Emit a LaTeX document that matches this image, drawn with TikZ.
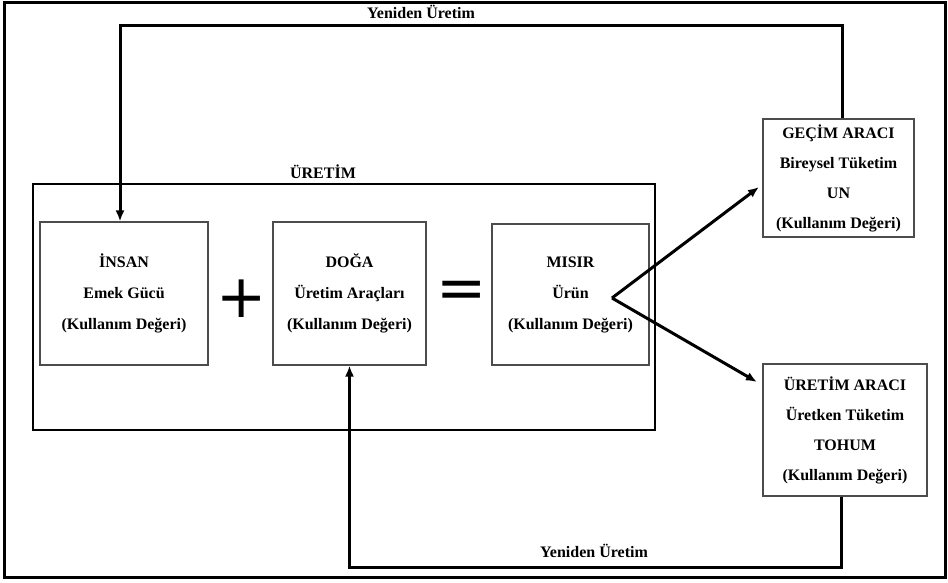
\documentclass[tikz,border=0pt]{standalone}
\usepackage{fontspec}
\setmainfont{Liberation Serif}
\newfontfamily\symfont{DejaVu Sans}
\usetikzlibrary{arrows.meta}
\begin{document}
\begin{tikzpicture}[x=1pt,y=-1pt,
 box/.style={draw=black!70,line width=1.1pt,inner sep=0pt,align=center,
   font=\bfseries\fontsize{16}{31}\selectfont},
 rbox/.style={box,font=\bfseries\fontsize{16}{30}\selectfont},
 lbl/.style={font=\bfseries\fontsize{16}{18}\selectfont,inner sep=0pt},
 flow/.style={line width=3pt,-{Latex[length=11pt,width=9pt]}},
 sym/.style={font=\symfont\fontsize{60}{60}\selectfont,inner sep=0pt},
]
\useasboundingbox (0,0) rectangle (948,582);
\draw[line width=3pt] (4,2) rectangle (945,577);

\node[draw,line width=1.6pt,minimum width=622pt,minimum height=246pt,inner sep=0pt] (uretim) at (344,307) {};
\node[lbl] (ulbl) at (323,172) {ÜRETİM};

\node[box,minimum width=168pt,minimum height=143pt] (insan) at (124,293.5)
  {İNSAN\\Emek Gücü\\(Kullanım Değeri)};
\node[sym] (plus) at (242,299) {+};
\node[box,minimum width=153pt,minimum height=143pt] (doga) at (349.5,293.5)
  {DOĞA\\Üretim Araçları\\(Kullanım Değeri)};
\node[sym] (eq) at (462,295) {=};
\node[box,minimum width=157pt,minimum height=141pt] (misir) at (570.5,294.5)
  {MISIR\\Ürün\\(Kullanım Değeri)};

\node[rbox,minimum width=151pt,minimum height=118pt] (gecim) at (838.5,178)
  {GEÇİM ARACI\\Bireysel Tüketim\\UN\\(Kullanım Değeri)};
\node[rbox,minimum width=164pt,minimum height=132pt] (uaraci) at (845,430)
  {ÜRETİM ARACI\\Üretken Tüketim\\TOHUM\\(Kullanım Değeri)};

\node[lbl] (toplbl) at (421,12) {Yeniden Üretim};
\node[lbl] (botlbl) at (594,551) {Yeniden Üretim};

\coordinate (src) at (612,298);
\coordinate (e1) at (759,187);
\coordinate (e2) at (757,382);
\draw[flow] (src) -- (e1);
\draw[flow] (src) -- (e2);

\coordinate (t1) at (842,25);
\coordinate (t2) at (120,25);
\draw[flow] (gecim.north -| t1) -- (t1) -- (t2) -- (t2 |- insan.north);

\coordinate (b1) at (841,567);
\coordinate (b2) at (349.5,567);
\draw[flow] (uaraci.south -| b1) -- (b1) -- (b2) -- (b2 |- doga.south);
\end{tikzpicture}
\end{document}
